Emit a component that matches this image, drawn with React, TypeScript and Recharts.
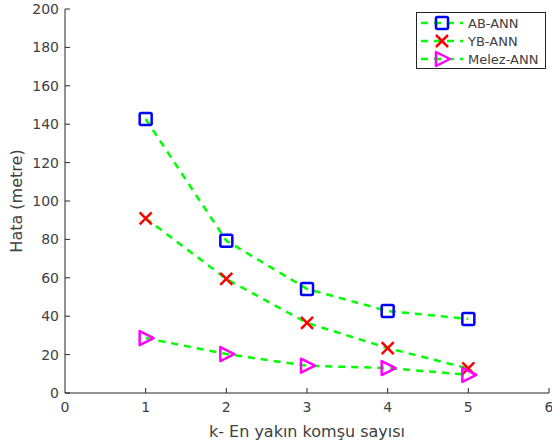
import React from "react";
import { LineChart, Line, XAxis, YAxis } from "recharts";

const kValues = [1, 2, 3, 4, 5];
const abAnn = [142.7, 79.3, 54.2, 42.7, 38.6];
const ybAnn = [91.0, 59.4, 36.5, 23.4, 12.8];
const melezAnn = [28.6, 20.3, 14.2, 13.0, 9.5];
const xTicks = [0, 1, 2, 3, 4, 5, 6];
const yTicks = [0, 20, 40, 60, 80, 100, 120, 140, 160, 180, 200];

const data = kValues.map((k, i) => ({ k, ab: abAnn[i], yb: ybAnn[i], melez: melezAnn[i] }));

const FONT = "DejaVu Sans, sans-serif";
const TXT = "#404040";
const AX = "#262626";

const SquareDot = (p: any) => {
  const { cx, cy } = p;
  if (cx == null || cy == null) return null;
  return <rect x={cx - 6} y={cy - 6} width={12} height={12} rx={1.5} fill="none" stroke="#0000ff" strokeWidth={2.5} />;
};
const CrossDot = (p: any) => {
  const { cx, cy } = p;
  if (cx == null || cy == null) return null;
  return (
    <g stroke="#ff0000" strokeWidth={2.5}>
      <line x1={cx - 6} y1={cy - 6} x2={cx + 6} y2={cy + 6} />
      <line x1={cx - 6} y1={cy + 6} x2={cx + 6} y2={cy - 6} />
    </g>
  );
};
const TriDot = (p: any) => {
  const { cx, cy } = p;
  if (cx == null || cy == null) return null;
  return (
    <polygon
      points={`${cx - 6},${cy - 7} ${cx + 8},${cy} ${cx - 6},${cy + 7}`}
      fill="none"
      stroke="#ff00ff"
      strokeWidth={2.5}
      strokeLinejoin="round"
    />
  );
};

const YTick = (p: any) => {
  const { x, y, payload } = p;
  return (
    <g>
      <line x1={x + 6} y1={y} x2={x + 11} y2={y} stroke={AX} strokeWidth={1} />
      <text x={x} y={y} dy={5} textAnchor="end" fontSize={14} fill={TXT} fontFamily={FONT}>
        {payload.value}
      </text>
    </g>
  );
};
const XTick = (p: any) => {
  const { x, y, payload } = p;
  return (
    <g>
      {payload.value !== 0 && (
        <line x1={x} y1={y - 6} x2={x} y2={y - 11} stroke={AX} strokeWidth={1} />
      )}
      <text x={x} y={y} dy={13} textAnchor="middle" fontSize={14} fill={TXT} fontFamily={FONT}>
        {payload.value}
      </text>
    </g>
  );
};

const YLabel = (p: any) => {
  const vb = p.viewBox || {};
  const cy = (vb.y ?? 9) + (vb.height ?? 384) / 2;
  return (
    <text
      x={22}
      y={cy}
      transform={`rotate(-90, 22, ${cy})`}
      textAnchor="middle"
      fontSize={16}
      fill={TXT}
      fontFamily={FONT}
    >
      Hata (metre)
    </text>
  );
};

const XLabel = (p: any) => {
  const vb = p.viewBox || {};
  const cx = (vb.x ?? 65) + (vb.width ?? 484) / 2;
  return (
    <text x={cx} y={437} textAnchor="middle" fontSize={16} fill={TXT} fontFamily={FONT}>
      k- En yakın komşu sayısı
    </text>
  );
};

const legendItems = [
  { label: "AB-ANN", Dot: SquareDot },
  { label: "YB-ANN", Dot: CrossDot },
  { label: "Melez-ANN", Dot: TriDot },
];

const LegendBox = () => (
  <svg width={130} height={57} style={{ display: "block" }}>
    <rect x={0.5} y={0.5} width={129} height={56} fill="#fff" stroke="#262626" strokeWidth={1} />
    {legendItems.map((it, i) => {
      const cy = 11 + i * 18;
      const D = it.Dot;
      return (
        <g key={it.label}>
          <line x1={5} y1={cy} x2={47} y2={cy} stroke="#00ff00" strokeWidth={2.5} strokeDasharray="7 6" />
          <D cx={26} cy={cy} />
          <text x={52} y={cy} dy={4.5} fontSize={13} fill={TXT} fontFamily={FONT}>
            {it.label}
          </text>
        </g>
      );
    })}
  </svg>
);

export default function App() {
  return (
    <div style={{ position: "absolute", left: 0, top: 0, width: 552, height: 447, background: "#fff" }}>
      <LineChart width={552} height={447} data={data} margin={{ top: 9, right: 3, left: 0, bottom: 0 }}>
        <XAxis
          dataKey="k"
          type="number"
          domain={[0, 6]}
          ticks={xTicks}
          interval={0}
          stroke={AX}
          tickLine={false}
          tickSize={0}
          tickMargin={6}
          tick={<XTick />}
          height={54}
          label={<XLabel />}
        />
        <YAxis
          type="number"
          domain={[0, 200]}
          ticks={yTicks}
          interval={0}
          stroke={AX}
          tickLine={false}
          tickSize={0}
          tickMargin={6}
          tick={<YTick />}
          width={65}
          label={<YLabel />}
        />
        <Line type="linear" dataKey="ab" name="AB-ANN" stroke="#00ff00" strokeWidth={2.5} strokeDasharray="7 6" dot={<SquareDot />} activeDot={false} isAnimationActive={false} />
        <Line type="linear" dataKey="yb" name="YB-ANN" stroke="#00ff00" strokeWidth={2.5} strokeDasharray="7 6" dot={<CrossDot />} activeDot={false} isAnimationActive={false} />
        <Line type="linear" dataKey="melez" name="Melez-ANN" stroke="#00ff00" strokeWidth={2.5} strokeDasharray="7 6" dot={<TriDot />} activeDot={false} isAnimationActive={false} />
      </LineChart>
      <div style={{ position: "absolute", left: 416, top: 12 }}>
        <LegendBox />
      </div>
    </div>
  );
}
